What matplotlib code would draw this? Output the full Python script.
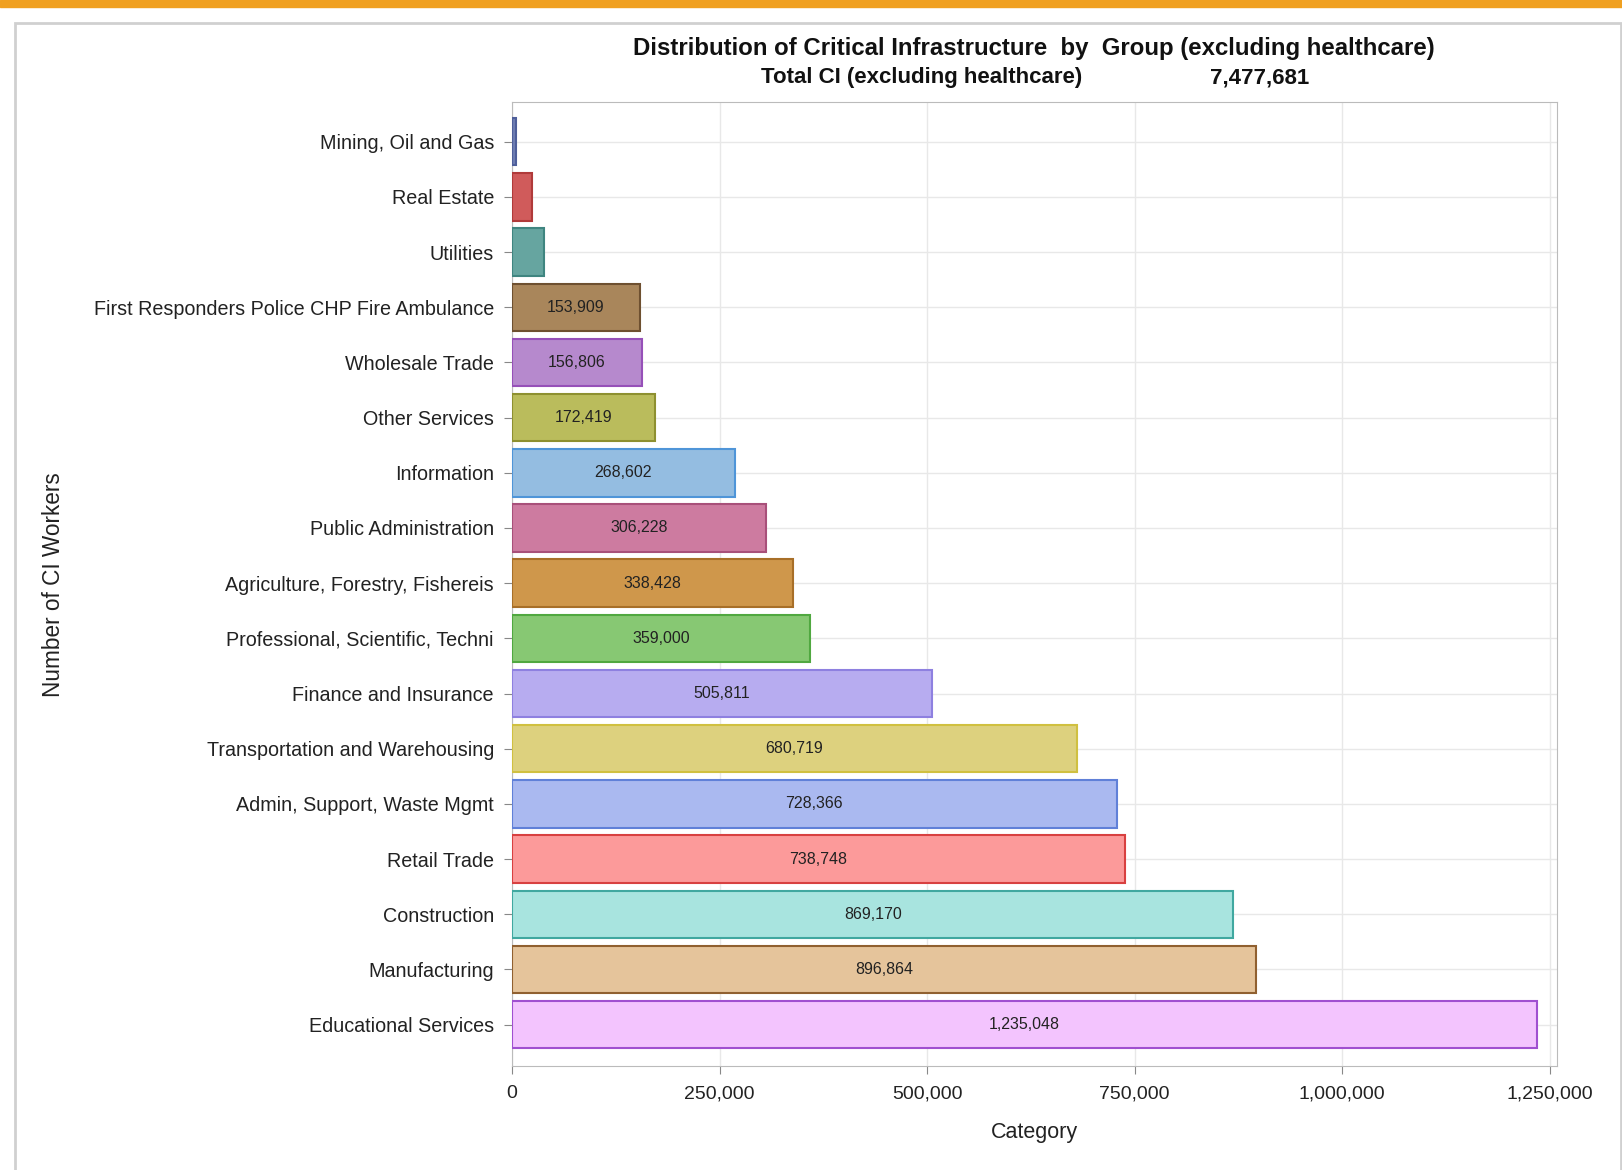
import matplotlib.pyplot as plt
import matplotlib.patches as mpatches
import numpy as np

plt.rcParams['font.family'] = ['Liberation Sans', 'DejaVu Sans']

# data (top to bottom)
categories = ['Mining, Oil and Gas', 'Real Estate', 'Utilities',
              'First Responders Police CHP Fire Ambulance', 'Wholesale Trade',
              'Other Services', 'Information', 'Public Administration',
              'Agriculture, Forestry, Fishereis', 'Professional, Scientific, Techni',
              'Finance and Insurance', 'Transportation and Warehousing',
              'Admin, Support, Waste Mgmt', 'Retail Trade', 'Construction',
              'Manufacturing', 'Educational Services']
workers = [4331, 24600, 38632, 153909, 156806, 172419, 268602, 306228,
           338428, 359000, 505811, 680719, 728366, 738748, 869170,
           896864, 1235048]
show_label = [False, False, False] + [True] * 14
total_ci = 7477681

fills = ['#6F7EB3', '#D05B5B', '#66A5A0', '#A9865B', '#B689CD', '#BABC5C',
         '#94BDE1', '#CD7BA0', '#CF974B', '#87C873', '#B7ACF0', '#DDD17E',
         '#AAB9F0', '#FC9A9A', '#A8E4DF', '#E5C49B', '#F3C4FE']
edges = ['#4E5E9A', '#B03A3A', '#3F8580', '#6E5030', '#9650B8', '#8E9030',
         '#4F95D8', '#A8507A', '#A86F28', '#50A840', '#8E80E0', '#D0C040',
         '#6080D8', '#D84040', '#40A8A0', '#906030', '#A050D0']

fig = plt.figure(figsize=(16.22, 11.70), dpi=100)

# frame: orange strip and card border
fig.patches.append(mpatches.Rectangle((0, 1 - 7 / 1170), 1, 7 / 1170,
                                      transform=fig.transFigure,
                                      color='#F0A020', zorder=0))
fig.patches.append(mpatches.Rectangle((15 / 1622, -0.01), 1 - 16 / 1622, 0.99,
                                      transform=fig.transFigure,
                                      facecolor='none', edgecolor='#D0D0D0',
                                      linewidth=2, zorder=0))

ax = fig.add_axes([512 / 1622, 1 - 1066 / 1170, (1557 - 512) / 1622, (1066 - 102) / 1170])

y = np.arange(len(categories))
ax.barh(y, workers, height=0.86, color=fills, edgecolor=edges, linewidth=1.5, zorder=3)

for yi, v, s in zip(y, workers, show_label):
    if s:
        ax.text(v / 2, yi, f'{v:,}', ha='center', va='center', fontsize=11.5,
                color='#222222', zorder=4)

ax.set_yticks(y)
ax.set_yticklabels(categories, fontsize=14.2, color='#222222')
ax.set_ylim(len(categories) - 1 + 0.75, -0.72)
ax.set_xlim(0, 1259000)
xt = [0, 250000, 500000, 750000, 1000000, 1250000]
ax.set_xticks(xt)
ax.set_xticklabels([f'{v:,}' for v in xt], fontsize=14, color='#222222')

ax.grid(True, color='#E8E8E8', linewidth=1, zorder=0)
ax.set_axisbelow(True)
for sp in ax.spines.values():
    sp.set_color('#BBBBBB')
ax.tick_params(axis='both', colors='#888888', length=6, labelcolor='#222222')
ax.tick_params(axis='y', pad=7)
ax.tick_params(axis='x', pad=8)

ax.set_xlabel('Category', fontsize=15.5, color='#222222', labelpad=14)
fig.text(54 / 1622, 0.5, 'Number of CI Workers', rotation=90,
         fontsize=16.3, color='#222222', ha='center', va='center')

fig.text(1034 / 1622, 1 - 48 / 1170,
         'Distribution of Critical Infrastructure  by  Group (excluding healthcare)',
         fontsize=17.3, fontweight='bold', ha='center', va='center', color='#111111')
fig.text(922 / 1622, 1 - 78 / 1170, 'Total CI (excluding healthcare)',
         fontsize=16, fontweight='bold', ha='center', va='center', color='#111111')
fig.text(1260 / 1622, 1 - 78 / 1170, f'{total_ci:,}',
         fontsize=16, fontweight='bold', ha='center', va='center', color='#111111')

fig.savefig('out.png', dpi=100)
